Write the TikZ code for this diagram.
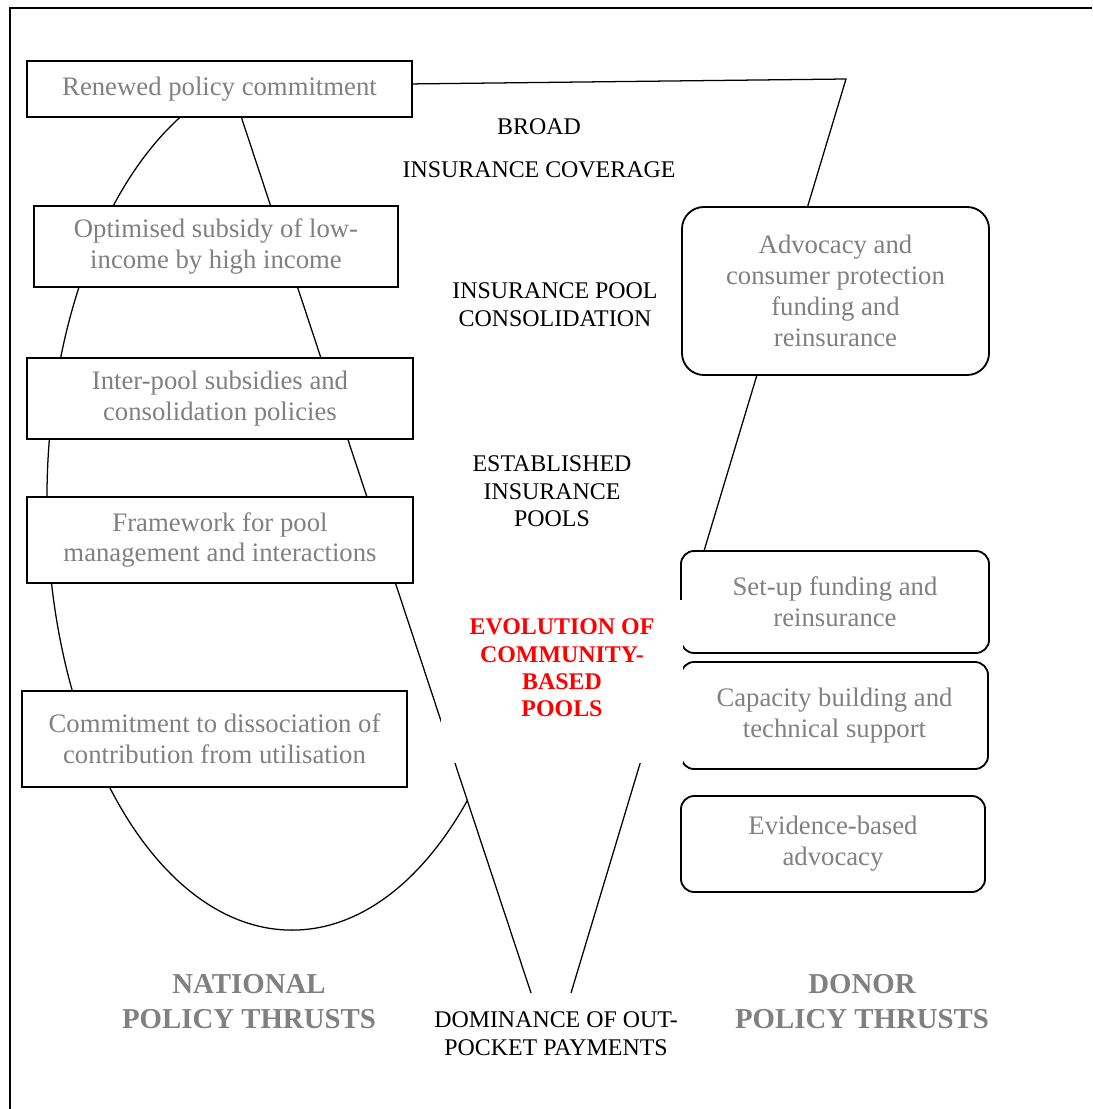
\documentclass[tikz,border=0pt]{standalone}
\usepackage{fontspec}
\setmainfont{Liberation Serif}
\definecolor{txtgray}{RGB}{128,128,128}
\definecolor{stagered}{RGB}{255,0,0}

\begin{document}
\begin{tikzpicture}[x=0.025cm,y=-0.025cm,
  natbox/.style={draw,fill=white,line width=1.3pt,text=txtgray,align=center,inner sep=0pt,font=\fontsize{19}{22}\selectfont},
  donbox/.style={natbox,rounded corners=0.33cm},
  stage/.style={align=center,font=\fontsize{17}{19.5}\selectfont},
  thrust/.style={align=center,text=txtgray,font=\bfseries\fontsize{20.5}{24.5}\selectfont},
  edge/.style={line width=0.9pt}]
  \useasboundingbox (0,0) rectangle (1092,1109);
  % frame
  \draw[line width=1.3pt] (10,1109) -- (10,8) -- (1092,8);
  % ellipse and funnel, behind the boxes
  \draw[edge] (292,500) ellipse [x radius=6.125cm, y radius=10.75cm];
  \coordinate (fun-bl) at (531,993);
  \coordinate (fun-tl) at (231,86);
  \coordinate (fun-tr) at (846,79);
  \coordinate (fun-br) at (571,993);
  \draw[edge,fill=white] (fun-bl) -- (fun-tl) -- (fun-tr) -- (fun-br);
  % national policy thrusts
  \node[natbox,minimum width=9.625cm,minimum height=1.4cm] (renew) at (219.5,89) {Renewed policy commitment};
  \node[natbox,minimum width=9.1cm,minimum height=2.025cm] (subsidy) at (216,246.5) {Optimised subsidy of low-\\income by high income};
  \node[natbox,minimum width=9.65cm,minimum height=2.025cm] (interpool) at (220,398.5) {Inter-pool subsidies and\\consolidation policies};
  \node[natbox,minimum width=9.65cm,minimum height=2.15cm] (framework) at (220,540) {Framework for pool\\management and interactions};
  \node[natbox,minimum width=9.625cm,minimum height=2.4cm] (dissoc) at (214.5,739) {Commitment to dissociation of\\contribution from utilisation};
  % donor policy thrusts
  \node[donbox,rounded corners=0.55cm,minimum width=7.675cm,minimum height=4.2cm] (advocacy) at (835.5,291) {Advocacy and\\consumer protection\\funding and\\reinsurance};
  \node[donbox,minimum width=7.7cm,minimum height=2.55cm] (setup) at (835,602) {Set-up funding and\\reinsurance};
  \node[donbox,minimum width=7.675cm,minimum height=2.675cm] (capacity) at (834.5,715.5) {Capacity building and\\technical support};
  \node[donbox,minimum width=7.6cm,minimum height=2.4cm] (evidence) at (833,844) {Evidence-based\\advocacy};
  % stages
  \node[stage] (broad) at (539,148.5) {BROAD\\[11pt]INSURANCE COVERAGE};
  \node[stage] (consol) at (555,304.5) {INSURANCE POOL\\CONSOLIDATION};
  \node[stage] (established) at (552,491.5) {ESTABLISHED\\INSURANCE\\POOLS};
  \fill[white] (441,600) rectangle (683,763);
  \node[stage,text=stagered,font=\bfseries\fontsize{17}{19.5}\selectfont] (evolution) at (562,668) {EVOLUTION OF\\COMMUNITY-\\BASED\\POOLS};
  \node[stage] (outpocket) at (556,1033.5) {DOMINANCE OF OUT-\\POCKET PAYMENTS};
  \node[thrust] (national) at (249,1001.5) {NATIONAL\\POLICY THRUSTS};
  \node[thrust] (donor) at (862,1001.5) {DONOR\\POLICY THRUSTS};
\end{tikzpicture}
\end{document}
